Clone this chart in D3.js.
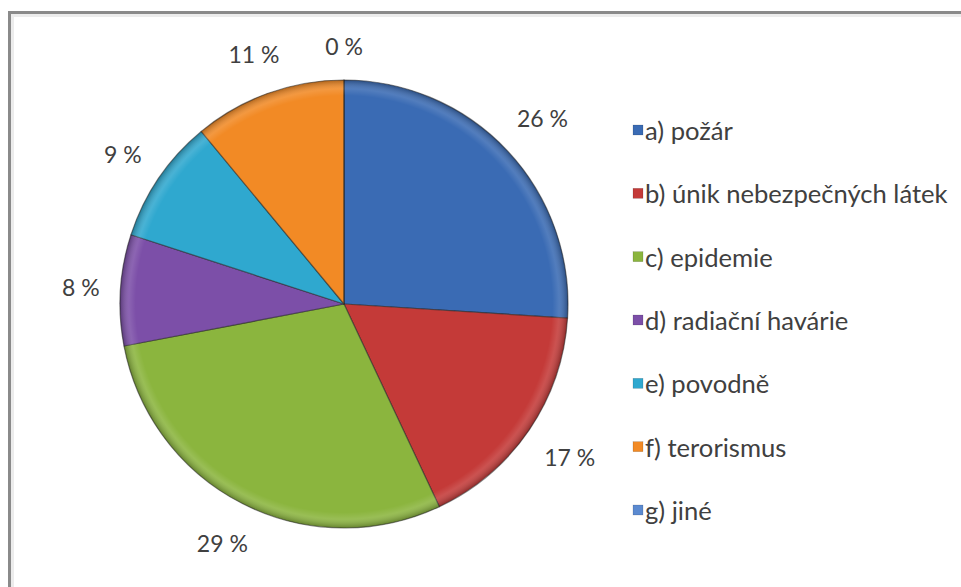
<!DOCTYPE html>
<html>
<head>
<meta charset="utf-8">
<script src="https://cdn.jsdelivr.net/npm/d3@7"></script>
<style>
  html, body { margin: 0; padding: 0; background: #fff; }
  svg { display: block; }
</style>
</head>
<body>
<svg id="chart" width="961" height="587"></svg>
<script>
// Category names, shares (percent) and slice colours
const categories = [
  "a) požár",
  "b) únik nebezpečných látek",
  "c) epidemie",
  "d) radiační havárie",
  "e) povodně",
  "f) terorismus",
  "g) jiné"
];
const values = [26, 17, 29, 8, 9, 11, 0];
const labels = ["26 %", "17 %", "29 %", "8 %", "9 %", "11 %", "0 %"];
const colors = ["#3a6bb4", "#c43a38", "#8bb53e", "#7c4fa8", "#2fa8cf", "#f28a25", "#5b8ad0"];

const svg = d3.select("#chart");
const W = 961, H = 587;
const cx = 344, cy = 304, R = 224;
const FONT = "Lato, 'Open Sans', sans-serif";

// Frame: grey border along the top and left edges
svg.append("path")
  .attr("d", `M9.5,${H} L9.5,12.5 L${W},12.5`)
  .attr("fill", "none")
  .attr("stroke", "#8a8a8a")
  .attr("stroke-width", 3);
svg.append("path")
  .attr("d", `M12.5,${H} L12.5,15.5 L${W},15.5`)
  .attr("fill", "none")
  .attr("stroke", "#ececec")
  .attr("stroke-width", 3);

// Rim shading for a bevelled look (centred on the pie group origin)
const defs = svg.append("defs");
const rim = defs.append("radialGradient").attr("id", "rim")
  .attr("gradientUnits", "userSpaceOnUse")
  .attr("cx", 0).attr("cy", 0).attr("r", R);
[
  [0, "#fff", 0],
  [0.93, "#fff", 0],
  [0.96, "#fff", 0.12],
  [1, "#000", 0.28]
].forEach(([o, c, a]) => rim.append("stop")
  .attr("offset", o).attr("stop-color", c).attr("stop-opacity", a));

const pie = d3.pie().sort(null).value(d => d)(values);
const arc = d3.arc().innerRadius(0).outerRadius(R);

const g = svg.append("g").attr("transform", `translate(${cx},${cy})`);

g.selectAll("path.slice")
  .data(pie)
  .join("path")
  .attr("class", "slice")
  .attr("d", arc)
  .attr("fill", (d, i) => colors[i])
  .attr("stroke", "rgba(40,40,40,0.55)")
  .attr("stroke-width", 1.2)
  .attr("stroke-linejoin", "round");

g.selectAll("path.shade")
  .data(pie)
  .join("path")
  .attr("class", "shade")
  .attr("d", arc)
  .attr("fill", "url(#rim)")
  .attr("pointer-events", "none");

// Percentage labels placed just outside each slice
const gap = 20;
g.selectAll("text.lbl")
  .data(pie)
  .join("text")
  .attr("class", "lbl")
  .attr("font-family", FONT)
  .attr("font-size", 23)
  .attr("fill", "#404040")
  .attr("text-anchor", "middle")
  .attr("dominant-baseline", "central")
  .text((d, i) => labels[i])
  .each(function (d) {
    const bb = this.getBBox();
    const a = (d.startAngle + d.endAngle) / 2;
    const ux = Math.sin(a), uy = -Math.cos(a);
    const ext = Math.abs(ux) * bb.width / 2 + Math.abs(uy) * bb.height / 2;
    const r = R + gap + ext;
    d3.select(this).attr("x", ux * r).attr("y", uy * r);
  });

// Legend
const legendY = d3.scalePoint().domain(categories).range([130, 510]);
const item = svg.append("g")
  .selectAll("g")
  .data(categories)
  .join("g")
  .attr("transform", d => `translate(633,${legendY(d)})`);
item.append("rect")
  .attr("x", 0).attr("y", -5)
  .attr("width", 10).attr("height", 10)
  .attr("fill", (d, i) => colors[i])
  .attr("stroke", "rgba(0,0,0,0.25)")
  .attr("stroke-width", 0.5);
item.append("text")
  .attr("x", 12)
  .attr("y", 0)
  .attr("dominant-baseline", "central")
  .attr("font-family", FONT)
  .attr("font-size", 25.6)
  .attr("fill", "#404040")
  .text(d => d);
</script>
</body>
</html>
